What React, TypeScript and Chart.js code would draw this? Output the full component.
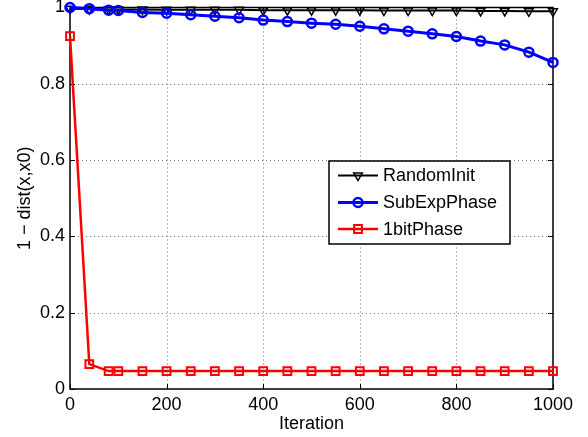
import React, { useEffect, useRef } from "react";
import { Chart, registerables } from "chart.js";
import { drawPoint } from "chart.js/helpers";

Chart.register(...registerables);

const iterations = [0, 40, 80, 100, 150, 200, 250, 300, 350, 400, 450, 500, 550, 600, 650, 700, 750, 800, 850, 900, 950, 1000];
const randomInit = [0.997, 0.996, 0.995, 0.995, 0.995, 0.994, 0.994, 0.994, 0.994, 0.993, 0.993, 0.993, 0.993, 0.993, 0.992, 0.992, 0.992, 0.992, 0.991, 0.991, 0.99, 0.99];
const subExpPhase = [1.0, 0.997, 0.993, 0.992, 0.987, 0.985, 0.981, 0.977, 0.973, 0.967, 0.963, 0.959, 0.956, 0.951, 0.944, 0.938, 0.931, 0.924, 0.912, 0.902, 0.883, 0.856];
const oneBitPhase = [0.925, 0.065, 0.047, 0.047, 0.047, 0.047, 0.047, 0.047, 0.047, 0.047, 0.047, 0.047, 0.047, 0.047, 0.047, 0.047, 0.047, 0.047, 0.047, 0.047, 0.047, 0.047];
const seriesNames = ["RandomInit", "SubExpPhase", "1bitPhase"];
const xTicks = [0, 200, 400, 600, 800, 1000];
const xTickLabels = ["0", "200", "400", "600", "800", "1000"];
const yTicks = [0, 0.2, 0.4, 0.6, 0.8, 1];
const yTickLabels = ["0", "0.2", "0.4", "0.6", "0.8", "1"];
const xTitle = "Iteration";
const yTitle = "1 \u2212 dist(x,x0)";

const FONT = '"Liberation Sans", Arial, Helvetica, sans-serif';

const axesPlugin = {
  id: "matlabAxes",
  beforeDatasetsDraw(chart: any) {
    const { ctx, chartArea: a, scales } = chart;
    const xs = scales.x;
    const ys = scales.y;
    ctx.save();
    ctx.strokeStyle = "rgba(0,0,0,0.55)";
    ctx.lineWidth = 1;
    ctx.setLineDash([1, 3]);
    xTicks.forEach((v) => {
      if (v <= xs.min || v >= xs.max) return;
      const px = Math.round(xs.getPixelForValue(v)) + 0.5;
      ctx.beginPath();
      ctx.moveTo(px, a.top);
      ctx.lineTo(px, a.bottom);
      ctx.stroke();
    });
    yTicks.forEach((v) => {
      if (v <= ys.min || v >= ys.max) return;
      const py = Math.round(ys.getPixelForValue(v)) + 0.5;
      ctx.beginPath();
      ctx.moveTo(a.left, py);
      ctx.lineTo(a.right, py);
      ctx.stroke();
    });
    ctx.setLineDash([]);
    ctx.strokeStyle = "#000";
    ctx.lineWidth = 1.5;
    ctx.strokeRect(a.left, a.top, a.right - a.left, a.bottom - a.top);
    const tl = 5;
    ctx.lineWidth = 1;
    xTicks.forEach((v) => {
      const px = Math.round(xs.getPixelForValue(v)) + 0.5;
      ctx.beginPath();
      ctx.moveTo(px, a.bottom);
      ctx.lineTo(px, a.bottom - tl);
      ctx.moveTo(px, a.top);
      ctx.lineTo(px, a.top + tl);
      ctx.stroke();
    });
    yTicks.forEach((v) => {
      const py = Math.round(ys.getPixelForValue(v)) + 0.5;
      ctx.beginPath();
      ctx.moveTo(a.left, py);
      ctx.lineTo(a.left + tl, py);
      ctx.moveTo(a.right, py);
      ctx.lineTo(a.right - tl, py);
      ctx.stroke();
    });
    ctx.restore();
  },
};

const legendPlugin = {
  id: "matlabLegend",
  afterDatasetsDraw(chart: any) {
    const { ctx } = chart;
    const box = { left: 329, top: 161, right: 510, bottom: 244 };
    ctx.save();
    ctx.fillStyle = "#fff";
    ctx.fillRect(box.left, box.top, box.right - box.left, box.bottom - box.top);
    ctx.strokeStyle = "#000";
    ctx.lineWidth = 1.5;
    ctx.strokeRect(box.left, box.top, box.right - box.left, box.bottom - box.top);
    const rows = [175.5, 202.5, 229];
    chart.data.datasets.forEach((ds: any, i: number) => {
      const y = rows[i];
      ctx.strokeStyle = ds.borderColor;
      ctx.lineWidth = ds.borderWidth;
      ctx.beginPath();
      ctx.moveTo(338, y);
      ctx.lineTo(378, y);
      ctx.stroke();
      ctx.fillStyle = "rgba(0,0,0,0)";
      ctx.lineWidth = ds.pointBorderWidth;
      drawPoint(ctx, { pointStyle: ds.pointStyle, rotation: ds.pointRotation || 0, radius: ds.pointRadius, borderWidth: ds.pointBorderWidth }, 358, y);
      ctx.fillStyle = "#000";
      ctx.font = `18px ${FONT}`;
      ctx.textBaseline = "middle";
      ctx.textAlign = "left";
      ctx.fillText(ds.label, 383, y + 1);
    });
    ctx.restore();
  },
};

export default function App() {
  const ref = useRef<HTMLCanvasElement>(null);
  useEffect(() => {
    const toPts = (ys: number[]) => iterations.map((x, i) => ({ x, y: ys[i] }));
    const chart = new Chart(ref.current!, {
      type: "scatter",
      data: {
        datasets: [
          {
            label: seriesNames[0],
            data: toPts(randomInit),
            showLine: true,
            borderColor: "#000000",
            borderWidth: 2,
            pointStyle: "triangle",
            pointRotation: 180,
            pointRadius: 5,
            pointBorderWidth: 1.5,
            pointBackgroundColor: "rgba(0,0,0,0)",
            pointBorderColor: "#000000",
            order: 2,
            clip: false,
          } as any,
          {
            label: seriesNames[1],
            data: toPts(subExpPhase),
            showLine: true,
            borderColor: "#0000ff",
            borderWidth: 3,
            pointStyle: "circle",
            pointRadius: 4.5,
            pointBorderWidth: 2.5,
            pointBackgroundColor: "rgba(0,0,0,0)",
            pointBorderColor: "#0000ff",
            order: 1,
            clip: false,
          } as any,
          {
            label: seriesNames[2],
            data: toPts(oneBitPhase),
            showLine: true,
            borderColor: "#ff0000",
            borderWidth: 2.5,
            pointStyle: "rect",
            pointRadius: 5.5,
            pointBorderWidth: 2,
            pointBackgroundColor: "rgba(0,0,0,0)",
            pointBorderColor: "#ff0000",
            order: 0,
            clip: false,
          } as any,
        ],
      },
      options: {
        animation: false,
        responsive: false,
        devicePixelRatio: 1,
        layout: { padding: { top: 7.5, right: 35, left: 0, bottom: 0 } },
        plugins: { legend: { display: false }, tooltip: { enabled: false } },
        elements: { line: { tension: 0 } },
        scales: {
          x: {
            type: "linear",
            min: 0,
            max: 1000,
            grid: { display: false, drawTicks: false },
            border: { display: false },
            ticks: {
              autoSkip: false,
              maxRotation: 0,
              padding: 5,
              color: "#000",
              font: { family: FONT, size: 18 },
              callback: (v: any) => {
                const i = xTicks.findIndex((t) => Math.abs(t - v) < 1e-9);
                return i >= 0 ? xTickLabels[i] : "";
              },
            },
            title: {
              display: true,
              text: xTitle,
              color: "#000",
              font: { family: FONT, size: 18 },
              padding: { top: 0, bottom: 1.7 },
            },
            afterBuildTicks: (s: any) => {
              s.ticks = xTicks.map((v) => ({ value: v }));
            },
            afterFit: (s: any) => {
              s.height = 48;
              s.paddingLeft = 0;
              s.paddingRight = 0;
            },
          },
          y: {
            type: "linear",
            min: 0,
            max: 1,
            grid: { display: false, drawTicks: false },
            border: { display: false },
            ticks: {
              padding: 5,
              color: "#000",
              font: { family: FONT, size: 18 },
              callback: (v: any) => {
                const i = yTicks.findIndex((t) => Math.abs(t - v) < 1e-9);
                return i >= 0 ? yTickLabels[i] : "";
              },
            },
            title: {
              display: true,
              text: yTitle,
              color: "#000",
              font: { family: FONT, size: 18 },
              padding: { top: 14.7, bottom: 0 },
            },
            afterBuildTicks: (s: any) => {
              s.ticks = yTicks.map((v) => ({ value: v }));
            },
            afterFit: (s: any) => {
              s.width = 70;
              s.paddingTop = 0;
              s.paddingBottom = 0;
            },
          },
        },
      },
      plugins: [axesPlugin, legendPlugin],
    });
    return () => chart.destroy();
  }, []);
  return (
    <div style={{ position: "fixed", left: 0, top: 0, width: 588, height: 437, background: "#fff" }}>
      <canvas ref={ref} width={588} height={437} style={{ display: "block" }} />
    </div>
  );
}
